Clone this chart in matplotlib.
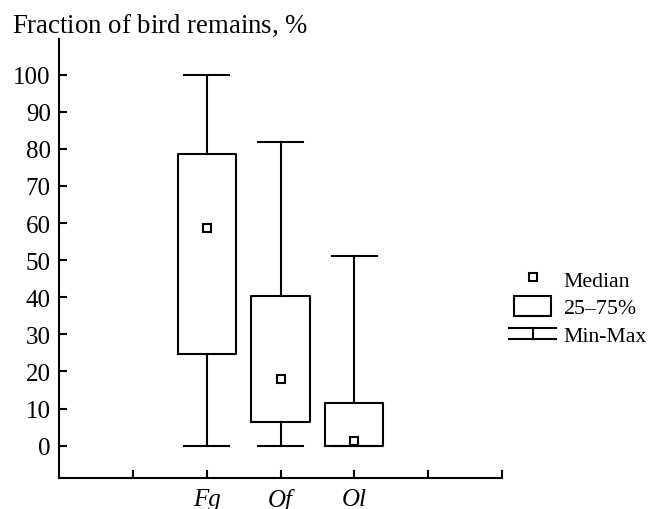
import matplotlib
matplotlib.use("Agg")
import matplotlib.pyplot as plt
from matplotlib.lines import Line2D
from matplotlib.patches import Rectangle
from matplotlib.legend_handler import HandlerBase

plt.rcParams['font.family'] = ['Liberation Serif', 'DejaVu Serif']
plt.rcParams['mathtext.fontset'] = 'custom'
plt.rcParams['mathtext.rm'] = 'Liberation Serif'
plt.rcParams['mathtext.it'] = 'Liberation Serif:italic'

# data
groups = ['Fg', 'Of', 'Ol']
positions = [2, 3, 4]
mins = [0, 0, 0]
q1 = [24.8, 6.5, 0]
medians = [58.7, 18.1, 1.3]
q3 = [78.6, 40.4, 11.6]
maxs = [100, 81.9, 51.1]


class MinMaxHandler(HandlerBase):
    def create_artists(self, legend, orig_handle, xdescent, ydescent,
                       width, height, fontsize, trans):
        cx = width / 2 - xdescent
        cy = height / 2 - ydescent
        half = 4.0
        ext = 3.5
        top = Line2D([-xdescent - ext, width - xdescent + ext], [cy + half, cy + half],
                     color='black', lw=1.5, transform=trans)
        bot = Line2D([-xdescent - ext, width - xdescent + ext], [cy - half, cy - half],
                     color='black', lw=1.5, transform=trans)
        mid = Line2D([cx, cx], [cy - half, cy + half], color='black', lw=1.5, transform=trans)
        return [top, bot, mid]


class MinMaxKey:
    pass


fig = plt.figure(figsize=(6.51, 5.10), dpi=100)
ax = fig.add_axes([59 / 651, 1 - 479 / 510, (502 - 59) / 651, (479 - 40) / 510])

stats = []
for i in range(len(groups)):
    stats.append(dict(med=medians[i], q1=q1[i], q3=q3[i], whislo=mins[i],
                      whishi=maxs[i], mean=medians[i], fliers=[]))

lw = 1.5
ax.bxp(stats, positions=positions, widths=0.79, capwidths=0.61, showmeans=True,
       showfliers=False,
       boxprops=dict(color='black', linewidth=lw),
       whiskerprops=dict(color='black', linewidth=lw),
       capprops=dict(color='black', linewidth=lw),
       medianprops=dict(linewidth=0),
       meanprops=dict(marker='s', markerfacecolor='white', markeredgecolor='black',
                      markersize=6.2, markeredgewidth=1.5))

ax.set_xlim(0, 6)
ax.set_ylim(-8.7, 109.6)
ax.set_yticks(range(0, 101, 10))
ax.set_xticks([1, 2, 3, 4, 5, 6])
ax.set_xticklabels(['', 'Fg', 'Of', 'Ol', '', ''], fontstyle='italic')
for s in ['top', 'right']:
    ax.spines[s].set_visible(False)
for s in ['left', 'bottom']:
    ax.spines[s].set_linewidth(1.5)
ax.tick_params(direction='in', length=6, width=1.5, labelsize=18, pad=6)
ax.tick_params(axis='x', pad=7)

fig.text(12 / 651, 1 - 33 / 510, r'Fraction of bird remains, $\mathit{\%}$',
         fontsize=19.3, va='baseline', ha='left')

handles = [
    Line2D([], [], ls='none', marker='s', markerfacecolor='white', markeredgecolor='black',
           markersize=6.2, markeredgewidth=1.5),
    Rectangle((0, 0), 1, 1, facecolor='white', edgecolor='black', linewidth=1.5),
    MinMaxKey(),
]
labels = ['Median', r'25–75$\mathit{\%}$', 'Min-Max']
fig.legend(handles, labels, handler_map={MinMaxKey: MinMaxHandler()},
           loc='center left', bbox_to_anchor=(514 / 651, 1 - 308 / 510),
           frameon=False, fontsize=15.7, handlelength=1.7, handleheight=1.1,
           handletextpad=0.55, labelspacing=0.2, borderpad=0, borderaxespad=0)

fig.savefig('out.png', dpi=100)
